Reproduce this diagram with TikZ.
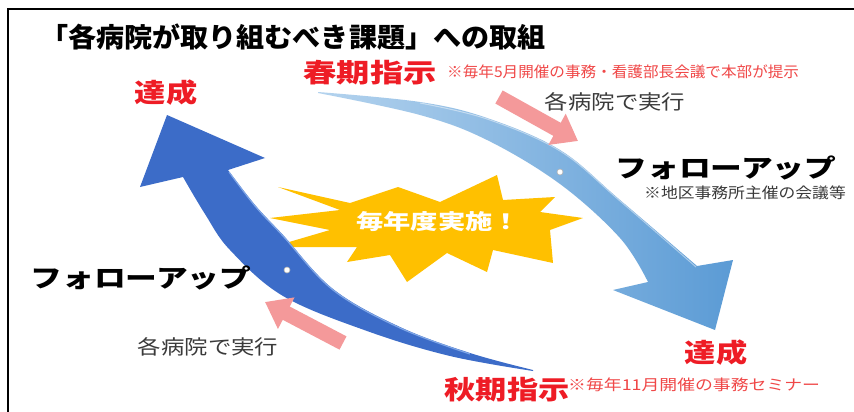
\documentclass[tikz,border=0pt]{standalone}
\usepackage{fontspec}
\usepackage{graphicx}
\newfontfamily\jp{Noto Sans CJK JP}
\usetikzlibrary{arrows.meta}
\definecolor{redt}{HTML}{EE1C25}
\definecolor{rednote}{HTML}{F04848}
\definecolor{grayt}{HTML}{3A3A3A}
\definecolor{pinkc}{HTML}{F4999A}
\definecolor{lbA}{HTML}{B4D3EE}
\definecolor{lbB}{HTML}{5B9BD5}
\definecolor{dbA}{HTML}{3C6CC8}
\definecolor{dbL}{HTML}{7FA6E6}
\definecolor{starc}{HTML}{FFC000}
\newcommand{\sx}[3]{{\fontsize{#1}{#1}\selectfont\scalebox{#2}[1]{#3}}}
\tikzset{
  lbl/.style={inner sep=0pt, anchor=center, font=\jp},
  redbig/.style={lbl, text=redt, font=\jp\bfseries},
  rnote/.style={lbl, text=rednote},
  exec/.style={lbl, text=grayt},
  follow/.style={lbl, text=black, font=\jp\bfseries},
  pinkarr/.style={draw=pinkc, line width=15pt, -{Triangle[length=24pt, width=34pt]}},
  dotc/.style={circle, fill=white, draw=gray!60, line width=0.6pt, inner sep=0pt, minimum size=6pt},
}
\begin{document}
\begin{tikzpicture}[x=1pt,y=-1pt]
\useasboundingbox (0,0) rectangle (854,412);
\fill[white] (0,0) rectangle (854,412);
\draw[line width=2pt] (854,9) -- (8,9) -- (8,412);

% title
\node[lbl, anchor=west, font=\jp\bfseries] (title) at (40,37) {\sx{27}{1.04}{「各病院が取り組むべき課題」への取組}};

% star
\fill[starc] (278,187) -- (350,203) -- (398,187) -- (440,202) -- (497,175) -- (503,200)
  -- (555,197) -- (540,212) -- (583,218) -- (550,230) -- (553,263) -- (493,250)
  -- (487,272) -- (447,253) -- (407,282) -- (390,255) -- (347,262) -- (357,247)
  -- (272,247) -- (330,230) -- (270,218) -- (340,210) -- cycle;
\node[lbl, text=white, font=\jp\bfseries] (every) at (438,222) {\sx{21}{1.3}{毎年度実施！}};

% light blue arrow (spring -> autumn)
\shade[left color=lbA, right color=lbB]
  plot[smooth, tension=0.6] coordinates {(318,92) (420,102) (487,118) (560,150) (620,200) (697,266)}
  -- (733,260) -- (715,330) -- (613,290) --
  plot[smooth, tension=0.6] coordinates {(648,282) (620,238) (560,184) (487,140) (420,115) (318,93)}
  -- cycle;
\draw[white, opacity=0.45, line width=1pt]
  plot[smooth, tension=0.6] coordinates {(420,103) (487,119) (560,151) (620,201) (696,267)};

% dark blue arrow (autumn -> spring)
\fill[dbA]
  plot[smooth, tension=0.6] coordinates {(533,371) (450,356) (367,331) (283,296) (230,250) (205,214) (183,177)}
  -- (140,187) -- (167,115) -- (265,158) --
  plot[smooth, tension=0.6] coordinates {(228,170) (255,205) (283,235) (333,289) (400,327) (470,353) (533,370)}
  -- cycle;
\draw[dbL, line width=1.2pt]
  plot[smooth, tension=0.6] coordinates {(229,172) (255,206) (283,236) (333,290) (400,328) (470,354)};

\node[dotc] (dot1) at (560,172) {};
\node[dotc] (dot2) at (287,270) {};

% pink arrows
\coordinate (pa1) at (499,97);
\coordinate (pa2) at (578,141);
\draw[pinkarr] (pa1) -- (pa2);
\coordinate (pb1) at (343,343);
\coordinate (pb2) at (265,302);
\draw[pinkarr] (pb1) -- (pb2);

% texts
\node[redbig] (spring) at (370,73) {\sx{26}{1.28}{春期指示}};
\node[rnote, anchor=west] (springnote) at (447,72) {\sx{15}{1.04}{※毎年5月開催の事務・看護部長会議で本部が提示}};
\node[redbig] (tasseiA) at (166,93) {\sx{26}{1.2}{達成}};
\node[exec] (execA) at (615,102) {\sx{20}{1.17}{各病院で実行}};
\node[follow] (followA) at (726,168) {\sx{25}{1.27}{フォローアップ}};
\node[exec, anchor=east] (followAnote) at (846,193) {\sx{15}{1.12}{※地区事務所主催の会議等}};
\node[follow] (followB) at (141,278) {\sx{25}{1.27}{フォローアップ}};
\node[exec] (execB) at (208,347) {\sx{20}{1.17}{各病院で実行}};
\node[redbig] (tasseiB) at (716,353) {\sx{26}{1.2}{達成}};
\node[redbig] (autumn) at (507,390) {\sx{26}{1.2}{秋期指示}};
\node[rnote, anchor=west] (autumnnote) at (568,385) {\sx{15}{1.19}{※毎年11月開催の事務セミナー}};
\end{tikzpicture}
\end{document}
